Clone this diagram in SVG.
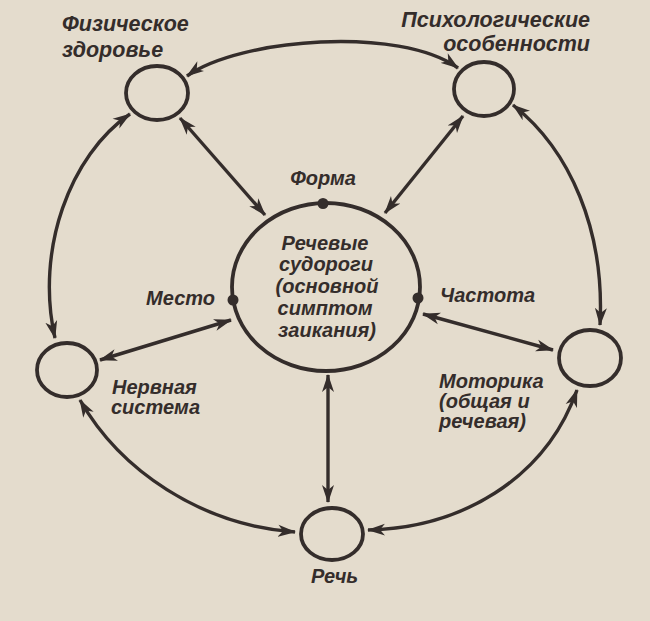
<svg xmlns="http://www.w3.org/2000/svg" width="650" height="621" viewBox="0 0 650 621">
<style>
.node{fill:none;stroke:#342d2b;stroke-width:3.8}
.dot{fill:#342d2b}
.lbl{font-family:"Liberation Sans",Arial,sans-serif;font-weight:bold;font-style:italic;font-size:20px;fill:#342d2b}
.big{font-size:21.5px}
.mid{text-anchor:middle}
.end{text-anchor:end}
.con{fill:none;stroke:#342d2b;stroke-width:3.4;marker-start:url(#ah);marker-end:url(#ah)}
</style>
<defs>
<marker id="ah" markerUnits="userSpaceOnUse" markerWidth="19" markerHeight="13" refX="17" refY="6.5" orient="auto-start-reverse">
<path d="M0,0.5 L18,6.5 L0,12.5 L5,6.5 Z" fill="#342d2b"/>
</marker>
</defs>
<rect width="650" height="621" fill="#e4dccd"/>

<g id="connectors">
<path id="c-phys-psych" class="con" d="M187,76 C240,38 400,26 458,68"/>
<path id="c-phys-nerv" class="con" d="M130,114 C70,155 35,250 55,338"/>
<path id="c-phys-main" class="con" d="M180,118 L265,215"/>
<path id="c-psych-main" class="con" d="M463,116 L385,213"/>
<path id="c-psych-motor" class="con" d="M513,105 C570,150 605,230 600,325"/>
<path id="c-main-nerv" class="con" d="M231,320 L100,360"/>
<path id="c-main-motor" class="con" d="M423,314 L553,350"/>
<path id="c-main-speech" class="con" d="M328,375 L328,502"/>
<path id="c-nerv-speech" class="con" d="M80,400 C120,470 200,525 295,532"/>
<path id="c-motor-speech" class="con" d="M577,390 C545,480 460,528 368,530"/>
</g>

<g id="node-phys">
<ellipse class="node" cx="157" cy="93" rx="31" ry="27"/>
<text class="lbl big" x="62" y="31">Физическое</text>
<text class="lbl big" x="62" y="57">здоровье</text>
</g>

<g id="node-psych">
<ellipse class="node" cx="484" cy="89" rx="30" ry="27"/>
<text class="lbl big end" x="590" y="27">Психологические</text>
<text class="lbl big end" x="590" y="51">особенности</text>
</g>

<g id="node-main">
<ellipse class="node" cx="326" cy="287" rx="94" ry="84"/>
<circle class="dot" cx="323" cy="203.5" r="5.5"/>
<circle class="dot" cx="233" cy="300" r="5.5"/>
<circle class="dot" cx="418" cy="298" r="5.5"/>
<text class="lbl mid" x="323" y="185">Форма</text>
<text class="lbl end" x="215" y="305">Место</text>
<text class="lbl" x="440" y="302">Частота</text>
<text class="lbl mid" x="325" y="250">Речевые</text>
<text class="lbl mid" x="326" y="271">судороги</text>
<text class="lbl mid" x="327" y="293">(основной</text>
<text class="lbl mid" x="325" y="315">симптом</text>
<text class="lbl mid" x="327" y="337">заикания)</text>
</g>

<g id="node-nerv">
<ellipse class="node" cx="67" cy="370" rx="30" ry="27"/>
<text class="lbl" x="112" y="394">Нервная</text>
<text class="lbl" x="111" y="414">система</text>
</g>

<g id="node-motor">
<ellipse class="node" cx="590" cy="358" rx="31" ry="28"/>
<text class="lbl" x="439" y="388">Моторика</text>
<text class="lbl" x="439" y="408">(общая и</text>
<text class="lbl" x="439" y="428">речевая)</text>
</g>

<g id="node-speech">
<ellipse class="node" cx="332" cy="534" rx="31" ry="26"/>
<text class="lbl" x="311" y="583">Речь</text>
</g>
</svg>
